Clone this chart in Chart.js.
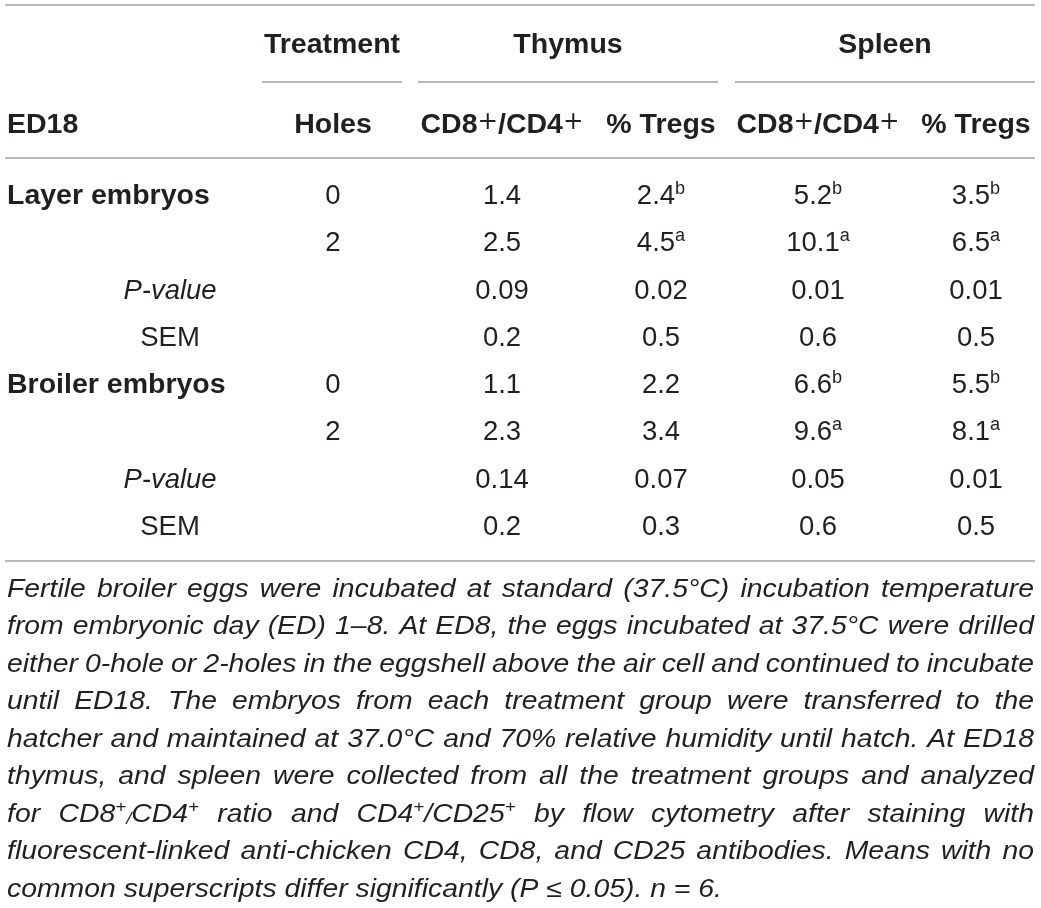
<!DOCTYPE html>
<html>
<head>
<meta charset="utf-8">
<script src="https://cdn.jsdelivr.net/npm/chart.js@4.4.0/dist/chart.umd.min.js"></script>
<style>
html, body { margin: 0; padding: 0; background: #fff; }
canvas { display: block; }
</style>
</head>
<body>
<canvas id="tbl" width="1041" height="908"></canvas>
<script>
// table data
var cornerLabel = 'ED18';
var groupHeaders = ['Treatment', 'Thymus', 'Spleen'];
var columnHeaders = ['Holes', 'CD8^{+}/CD4^{+}', '% Tregs', 'CD8^{+}/CD4^{+}', '% Tregs'];

var rowLabels = ['Layer embryos', '', 'P-value', 'SEM', 'Broiler embryos', '', 'P-value', 'SEM'];
var holes = ['0', '2', '', '', '0', '2', '', ''];
var thymusRatio = [1.4, 2.5, 0.09, 0.2, 1.1, 2.3, 0.14, 0.2];
var thymusRatioSup = ['', '', '', '', '', '', '', ''];
var thymusTregs = [2.4, 4.5, 0.02, 0.5, 2.2, 3.4, 0.07, 0.3];
var thymusTregsSup = ['b', 'a', '', '', '', '', '', ''];
var spleenRatio = [5.2, 10.1, 0.01, 0.6, 6.6, 9.6, 0.05, 0.6];
var spleenRatioSup = ['b', 'a', '', '', 'b', 'a', '', ''];
var spleenTregs = [3.5, 6.5, 0.01, 0.5, 5.5, 8.1, 0.01, 0.5];
var spleenTregsSup = ['b', 'a', '', '', 'b', 'a', '', ''];

var footnote = [
	'Fertile broiler eggs were incubated at standard (37.5°C) incubation temperature',
	'from embryonic day (ED) 1–8. At ED8, the eggs incubated at 37.5°C were drilled',
	'either 0-hole or 2-holes in the eggshell above the air cell and continued to incubate',
	'until ED18. The embryos from each treatment group were transferred to the',
	'hatcher and maintained at 37.0°C and 70% relative humidity until hatch. At ED18',
	'thymus, and spleen were collected from all the treatment groups and analyzed',
	'for CD8^{+}_{/}CD4^{+} ratio and CD4^{+}/CD25^{+} by flow cytometry after staining with',
	'fluorescent-linked anti-chicken CD4, CD8, and CD25 antibodies. Means with no',
	'common superscripts differ significantly (P ≤ 0.05). n = 6.'
];

// layout (pixels)
var FAMILY = '"Liberation Sans", Arial, Helvetica, sans-serif';
var PLUS_FAMILY = '"DejaVu Sans", sans-serif';
var INK = '#231f20';
var RULE = '#a3a3a3';
var colX = [333, 502, 661, 818, 976];
var labelLeft = 7, labelCenter = 170;
var ruleLeft = 5, ruleRight = 1035;
var spans = [[262, 402], [418, 718], [735, 1035]];
var headFont = { style: 'normal', weight: 'bold', size: 28.5 };
var cellFont = { style: 'normal', weight: 'normal', size: 27.5 };
var noteFont = { style: 'italic', weight: 'normal', size: 25, stretch: 1.135 };

function parseRich(str) {
	var re = /\^\{([^}]*)\}|_\{([^}]*)\}|([^\^_]+)/g, out = [], m;
	while ((m = re.exec(str))) {
		if (m[1] !== undefined) out.push({ t: m[1], k: 'sup' });
		else if (m[2] !== undefined) out.push({ t: m[2], k: 'sub' });
		else out.push({ t: m[3], k: 'n' });
	}
	return out;
}

function bigPlus(f, s) {
	return s.k === 'sup' && s.t === '+' && f.style !== 'italic';
}

function segFont(f, s) {
	if (s.k === 'n') return f.style + ' ' + f.weight + ' ' + f.size + 'px ' + FAMILY;
	if (bigPlus(f, s)) return 'normal normal ' + (f.size * 0.86) + 'px ' + PLUS_FAMILY;
	return f.style + ' normal ' + (f.size * 0.66) + 'px ' + FAMILY;
}

function segShift(f, s) {
	if (s.k === 'sup') return bigPlus(f, s) ? -f.size * 0.13 : -f.size * 0.37;
	if (s.k === 'sub') return f.size * 0.1;
	return 0;
}

function richWidth(ctx, str, f) {
	var w = 0, st = f.stretch || 1;
	parseRich(str).forEach(function(s) {
		ctx.font = segFont(f, s);
		w += ctx.measureText(s.t).width * st;
	});
	return w;
}

function drawRich(ctx, str, x, base, align, f) {
	var st = f.stretch || 1;
	var w = richWidth(ctx, str, f);
	var cx = align === 'center' ? x - w / 2 : (align === 'right' ? x - w : x);
	parseRich(str).forEach(function(s) {
		ctx.font = segFont(f, s);
		ctx.save();
		ctx.translate(cx, base + segShift(f, s));
		ctx.scale(st, 1);
		ctx.fillText(s.t, 0, 0);
		ctx.restore();
		cx += ctx.measureText(s.t).width * st;
	});
}

function hline(ctx, x1, x2, y) {
	ctx.beginPath();
	ctx.moveTo(x1, y);
	ctx.lineTo(x2, y);
	ctx.stroke();
}

function cellSet(values, sups, col) {
	return {
		data: values.map(function(v, i) { return { x: colX[col], y: i }; }),
		texts: values.map(function(v, i) {
			if (v === '') return '';
			return String(v) + (sups && sups[i] ? '^{' + sups[i] + '}' : '');
		}),
		pointRadius: 0
	};
}

var labelSet = {
	data: rowLabels.map(function(l, i) {
		return { x: (l === 'P-value' || l === 'SEM') ? labelCenter : labelLeft, y: i };
	}),
	texts: rowLabels,
	isLabel: true,
	pointRadius: 0
};

var tablePlugin = {
	id: 'tablePlugin',
	beforeDraw: function(chart) {
		var ctx = chart.ctx;
		ctx.save();
		ctx.fillStyle = '#fff';
		ctx.fillRect(0, 0, chart.width, chart.height);
		ctx.restore();
	},
	afterDatasetsDraw: function(chart) {
		var ctx = chart.ctx, area = chart.chartArea, xs = chart.scales.x;
		ctx.save();
		ctx.textAlign = 'left';
		ctx.textBaseline = 'alphabetic';
		ctx.fillStyle = INK;

		// rules
		ctx.strokeStyle = RULE;
		ctx.lineWidth = 1.6;
		hline(ctx, ruleLeft, ruleRight, area.top - 165.4);
		spans.forEach(function(s) { hline(ctx, xs.getPixelForValue(s[0]), xs.getPixelForValue(s[1]), area.top - 88.4); });
		hline(ctx, ruleLeft, ruleRight, area.top - 12.4);
		hline(ctx, ruleLeft, ruleRight, area.bottom + 12.3);

		// headers
		var b1 = area.top - 117, b2 = area.top - 37.4;
		groupHeaders.forEach(function(h, i) {
			var mid = (xs.getPixelForValue(spans[i][0]) + xs.getPixelForValue(spans[i][1])) / 2;
			drawRich(ctx, h, mid, b1, 'center', headFont);
		});
		drawRich(ctx, cornerLabel, labelLeft, b2, 'left', headFont);
		columnHeaders.forEach(function(h, i) {
			drawRich(ctx, h, xs.getPixelForValue(colX[i]), b2, 'center', headFont);
		});

		// cells
		chart.data.datasets.forEach(function(ds, di) {
			var meta = chart.getDatasetMeta(di);
			meta.data.forEach(function(pt, j) {
				var t = ds.texts[j];
				if (!t) return;
				if (ds.isLabel) {
					if (t === 'P-value') drawRich(ctx, t, pt.x, pt.y + 0.36 * cellFont.size, 'center', { style: 'italic', weight: 'normal', size: cellFont.size });
					else if (t === 'SEM') drawRich(ctx, t, pt.x, pt.y + 0.36 * cellFont.size, 'center', cellFont);
					else drawRich(ctx, t, pt.x, pt.y + 0.36 * headFont.size, 'left', headFont);
				} else {
					drawRich(ctx, t, pt.x, pt.y + 0.36 * cellFont.size, 'center', cellFont);
				}
			});
		});

		// footnote, justified
		var left = ruleLeft + 2, right = ruleRight - 1, width = right - left;
		var base = area.bottom + 48, step = 37.5;
		footnote.forEach(function(line, li) {
			var words = line.split(' ');
			var y = base + li * step;
			if (li === footnote.length - 1) {
				drawRich(ctx, line, left, y, 'left', noteFont);
				return;
			}
			var ws = words.map(function(w) { return richWidth(ctx, w, noteFont); });
			var total = ws.reduce(function(a, b) { return a + b; }, 0);
			var gap = (width - total) / (words.length - 1);
			var x = left;
			words.forEach(function(w, wi) {
				drawRich(ctx, w, x, y, 'left', noteFont);
				x += ws[wi] + gap;
			});
		});
		ctx.restore();
	}
};

new Chart(document.getElementById('tbl'), {
	type: 'scatter',
	data: {
		datasets: [
			labelSet,
			cellSet(holes, null, 0),
			cellSet(thymusRatio, thymusRatioSup, 1),
			cellSet(thymusTregs, thymusTregsSup, 2),
			cellSet(spleenRatio, spleenRatioSup, 3),
			cellSet(spleenTregs, spleenTregsSup, 4)
		]
	},
	options: {
		responsive: false,
		animation: false,
		devicePixelRatio: 1,
		layout: { padding: { top: 170.4, bottom: 359.3, left: 0, right: 0 } },
		plugins: { legend: { display: false }, tooltip: { enabled: false } },
		events: [],
		scales: {
			x: { type: 'linear', min: 0, max: 1041, display: false },
			y: { type: 'linear', min: -0.5, max: 7.5, reverse: true, display: false }
		}
	},
	plugins: [tablePlugin]
});
</script>
</body>
</html>
